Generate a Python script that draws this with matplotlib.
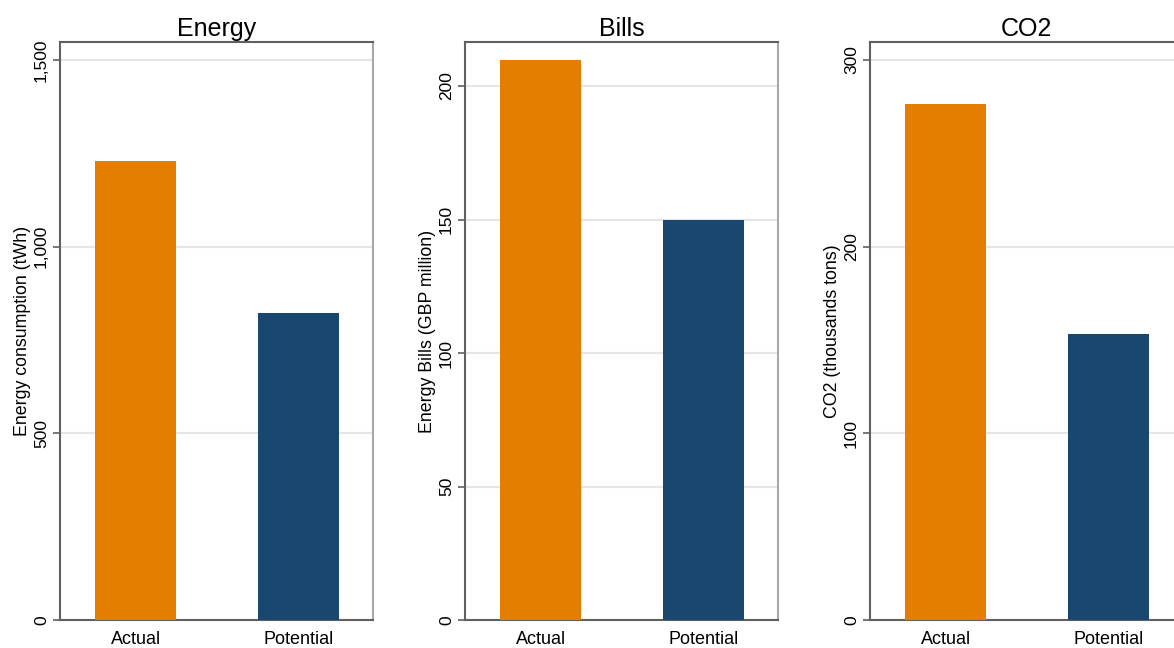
import numpy as np
import matplotlib.pyplot as plt

plt.rcParams['font.family'] = ['Liberation Sans', 'DejaVu Sans']

categories = ['Actual', 'Potential']
energy = [1229, 822]
bills = [209.7, 149.8]
co2 = [276.4, 153.2]

titles = ['Energy', 'Bills', 'CO2']
ylabels = ['Energy consumption (tWh)', 'Energy Bills (GBP million)', 'CO2 (thousands tons)']
yticks = [[0, 500, 1000, 1500], [0, 50, 100, 150, 200], [0, 100, 200, 300]]
ytop = [1548, 216.5, 309.6]
colors = ['#E37E00', '#1A476F']

fig = plt.figure(figsize=(11.74, 6.48), dpi=100)

lefts = [60, 465, 870]
for i, values in enumerate([energy, bills, co2]):
    ax = fig.add_axes([lefts[i] / 1174, 28 / 648, 313 / 1174, 578 / 648])
    x = np.arange(len(categories))
    ax.bar(x, values, width=0.5, color=colors, zorder=3)
    ax.set_xlim(-0.465, 1.46)
    ax.set_ylim(0, ytop[i])
    ax.set_xticks(x)
    ax.set_xticklabels(categories, fontsize=13)
    ax.tick_params(axis='x', length=0, pad=8)
    ax.set_yticks(yticks[i])
    ax.set_yticklabels([f'{t:,}' for t in yticks[i]], rotation=90, va='center', fontsize=12.5)
    ax.tick_params(axis='y', length=5, width=1.2, color='#606060', pad=3)
    ax.grid(axis='y', color='#E6E6E6', lw=1.5, zorder=0)
    for side in ['left', 'bottom', 'top']:
        ax.spines[side].set_color('#606060')
        ax.spines[side].set_linewidth(1.5)
    ax.spines['right'].set_color('#A8A8A8')
    ax.spines['right'].set_linewidth(1.5)
    ax.set_title(titles[i], fontsize=18, pad=4)
    ax.set_ylabel(ylabels[i], fontsize=12.8, labelpad=2)

fig.savefig('out.png', dpi=100)
